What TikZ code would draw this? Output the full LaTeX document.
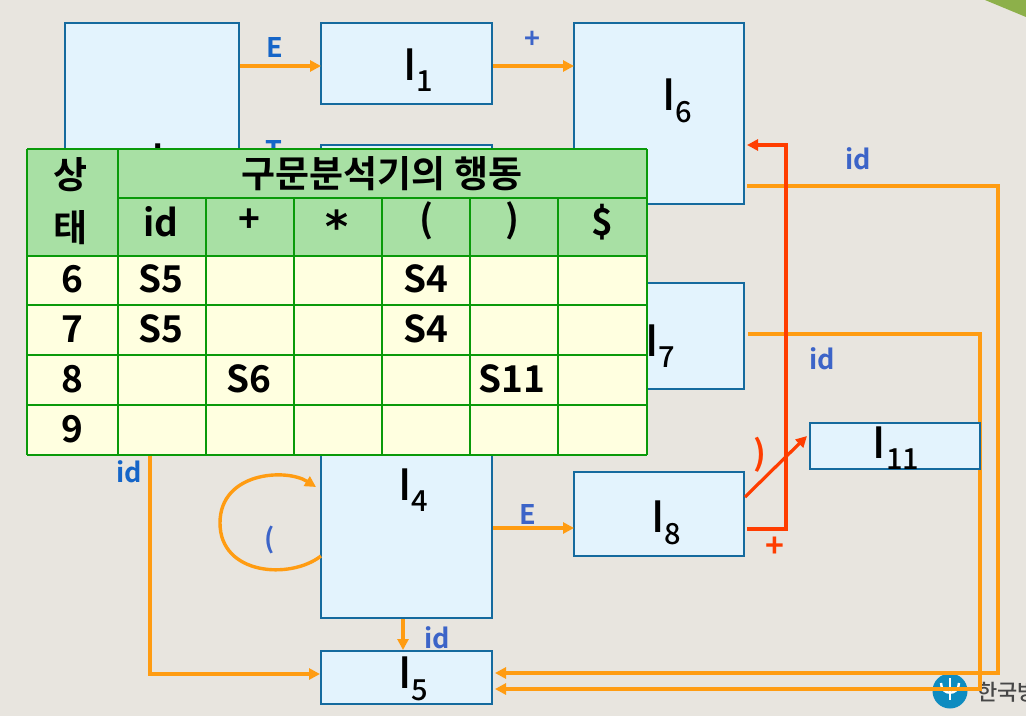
\documentclass[tikz,border=0pt]{standalone}
\usepackage{fontspec}
\setmainfont[BoldFont={Noto Sans CJK KR Bold}]{Noto Sans CJK KR}
\newfontfamily\medfont{Noto Sans CJK KR Medium}
\newfontfamily\starfont{DejaVu Sans Bold}
\usetikzlibrary{arrows.meta}
\definecolor{bgc}{HTML}{E8E5DF}
\definecolor{boxfill}{HTML}{E3F3FD}
\definecolor{boxline}{HTML}{156A9E}
\definecolor{orangeline}{HTML}{FF9C12}
\definecolor{redline}{HTML}{FF3D00}
\definecolor{labA}{HTML}{1565C8}
\definecolor{labB}{HTML}{3C64C8}
\definecolor{tline}{HTML}{0A9A0A}
\definecolor{thead}{HTML}{A8E0A4}
\definecolor{tbody}{HTML}{FFFFE0}
\definecolor{leaf}{HTML}{8DB04A}
\definecolor{logoblue}{HTML}{0F8CC0}
\newcommand{\Isub}[1]{\fontsize{43}{43}\medfont I\raisebox{-0.27em}{\fontsize{29}{29}\medfont #1}}
\tikzset{
  x=1pt,y=-1pt,
  statebox/.style={draw=boxline,fill=boxfill,line width=2.7pt,inner sep=0pt,outer sep=0pt},
  statetext/.style={inner sep=0pt,text=black,anchor=center},
  oline/.style={draw=orangeline,line width=3.4pt},
  rline/.style={draw=redline,line width=3.6pt},
  otip/.style={-{Triangle[length=11pt,width=11pt]}},
  rtip/.style={-{Triangle[length=11pt,width=11pt]}},
  lab/.style={inner sep=0pt,font=\fontsize{27}{27}\bfseries},
  cell/.style={inner sep=0pt,text=black,font=\fontsize{37}{37}\bfseries},
  korcell/.style={inner sep=0pt,text=black,font=\fontsize{37}{37}\bfseries},
  grid/.style={draw=tline,line width=2.6pt},
}
\newcommand{\boxat}[5]{\node[statebox,minimum width=#4pt-#2pt-1pt,minimum height=#5pt-#3pt-1pt,anchor=north west] (#1) at (#2,#3) {};}
\begin{document}
\begin{tikzpicture}
\useasboundingbox (0,0) rectangle (1026,720);
\fill[white] (0,0) rectangle (1026,720);
\fill[bgc] (0,0) rectangle (1026,716);
\fill[leaf] (985,0) -- (1026,0) -- (1026,17) -- cycle;
% logo
\node[circle,fill=logoblue,minimum size=35pt,inner sep=0pt] (logo) at (950,691) {};
\draw[white,line width=2.4pt] (941,683) .. controls (941,696) and (959,696) .. (959,683);
\draw[white,line width=2.4pt] (950,678) -- (950,700);
\begin{scope}
\clip (960,670) rectangle (1026,716);
\node[inner sep=0pt,anchor=west,text=black!72,font=\fontsize{22}{22}\medfont] (logotext) at (977,692) {한국방};
\end{scope}
% state boxes
\boxat{I0}{65}{23}{240}{300}
\boxat{I1}{321}{23}{493}{105}
\boxat{I2}{321}{145}{493}{240}
\boxat{I6}{574}{23}{745}{205}
\boxat{I7}{574}{283}{745}{390}
\boxat{I4}{321}{400}{493}{619}
\boxat{I8}{574}{472}{745}{557}
\boxat{I5}{321}{651}{493}{705}
% free points of the routes
\coordinate (c6a) at (747,186);
\coordinate (c6b) at (998,186);
\coordinate (c6c) at (998,673);
\coordinate (c6d) at (495,673);
\coordinate (c7a) at (748,334);
\coordinate (c7b) at (980,334);
\coordinate (c7c) at (980,689);
\coordinate (c7d) at (495,689);
\coordinate (c0a) at (150,440);
\coordinate (c0b) at (150,674);
\coordinate (c0c) at (320,674);
\coordinate (r1) at (747,529);
\coordinate (r2) at (786,529);
\coordinate (r3) at (786,145);
\coordinate (r4) at (747,145);
\coordinate (e0) at (240,66);
\coordinate (e1) at (321,66);
\coordinate (p1) at (493,66);
\coordinate (p6) at (574,66);
\coordinate (e4) at (493,528);
\coordinate (e8) at (574,528);
\coordinate (d4) at (403,619);
\coordinate (d5) at (403,650);
\coordinate (l4a) at (321,556);
\coordinate (l4b) at (316,487);
\coordinate (c8a) at (745,497);
\coordinate (c8b) at (807,436);
% orange connectors
\draw[oline,otip] (e0) -- (e1);
\draw[oline,otip] (p1) -- (p6);
\draw[oline,otip] (e4) -- (e8);
\draw[oline,otip] (d4) -- (d5);
\draw[oline,otip,line join=miter] (c6a) -- (c6b) -- (c6c) -- (c6d);
\draw[oline,otip,line join=miter] (c7a) -- (c7b) -- (c7c) -- (c7d);
\draw[oline,otip,line join=miter] (c0a) -- (c0b) -- (c0c);
\draw[oline,otip] (l4a) .. controls (290,580) and (220,575) .. (220,523) .. controls (220,472) and (286,468) .. (l4b);
% red connectors
\draw[rline,rtip,line join=miter] (r1) -- (r2) -- (r3) -- (r4);
\draw[draw=redline,line width=3.2pt,rtip] (c8a) -- (c8b);
% the box that sits over the orange route
\boxat{I11}{810}{423}{981}{470}
% state names
\node[statetext] (tI0) at (166,166) {\Isub{0}};
\node[statetext] (tI1) at (418,70) {\Isub{1}};
\node[statetext] (tI6) at (677,101) {\Isub{6}};
\node[statetext] (tI7) at (660,346) {\Isub{7}};
\node[statetext] (tI4) at (413,490) {\Isub{4}};
\node[statetext] (tI8) at (666,523) {\Isub{8}};
\node[statetext] (tI11) at (896,448) {\Isub{11}};
\node[statetext] (tI5) at (413,679) {\Isub{5}};
% labels
\node[lab,text=labA] (lE) at (275,47) {E};
\node[lab,text=labB] (lplus) at (532,40) {+};
\node[lab,text=labA] (lT) at (274,150) {T};
\node[lab,text=labB] (lid6) at (858,159) {id};
\node[lab,text=labB] (lid7) at (822,359) {id};
\node[lab,text=labA] (lid0) at (129,472) {id};
\node[lab,text=labB] (lpar) at (270,540) {(};
\node[lab,text=labB] (lE2) at (528,514) {E};
\node[lab,text=labB] (lid4) at (437,638) {id};
\node[lab,text=redline,font=\fontsize{34}{34}\bfseries] (lclose) at (760,455) {)};
\node[lab,text=redline,font=\fontsize{32}{32}\bfseries] (lplus2) at (775,547) {+};
% table
\fill[thead] (27,149) rectangle (647,256);
\fill[tbody] (27,256) rectangle (647,455);
\foreach \yy in {256,305,355,405,455} \draw[grid] (27,\yy) -- (647,\yy);
\draw[grid] (27,149) -- (647,149);
\draw[grid] (118,198) -- (647,198);
\draw[grid] (27,149) -- (27,455);
\draw[grid] (118,149) -- (118,455);
\foreach \xx in {206,294,382,470,558} \draw[grid] (\xx,198) -- (\xx,455);
\draw[grid] (647,149) -- (647,455);
\node[korcell] (h1) at (71,175) {상};
\node[korcell] (h2) at (71,228) {태};
\node[korcell] (h3) at (382,174) {구문분석기의 행동};
\node[cell] (hid) at (161,222) {id};
\node[cell] (hplus) at (249,221) {+};
\node[cell,font=\fontsize{44}{44}\starfont] (hstar) at (337,226) {*};
\node[cell] (hopen) at (426,221) {(};
\node[cell] (hclose) at (512,221) {)};
\node[cell] (hdollar) at (602,222) {\$};
\node[cell] (r6) at (72,279) {6};
\node[cell] (r7) at (72,329) {7};
\node[cell] (r8) at (72,379) {8};
\node[cell] (r9) at (72,429) {9};
\node[cell] (a65) at (161,279) {S5};
\node[cell] (a64) at (426,279) {S4};
\node[cell] (a75) at (161,329) {S5};
\node[cell] (a74) at (426,329) {S4};
\node[cell] (a86) at (249,379) {S6};
\node[cell] (a811) at (512,379) {S11};
\end{tikzpicture}
\end{document}
